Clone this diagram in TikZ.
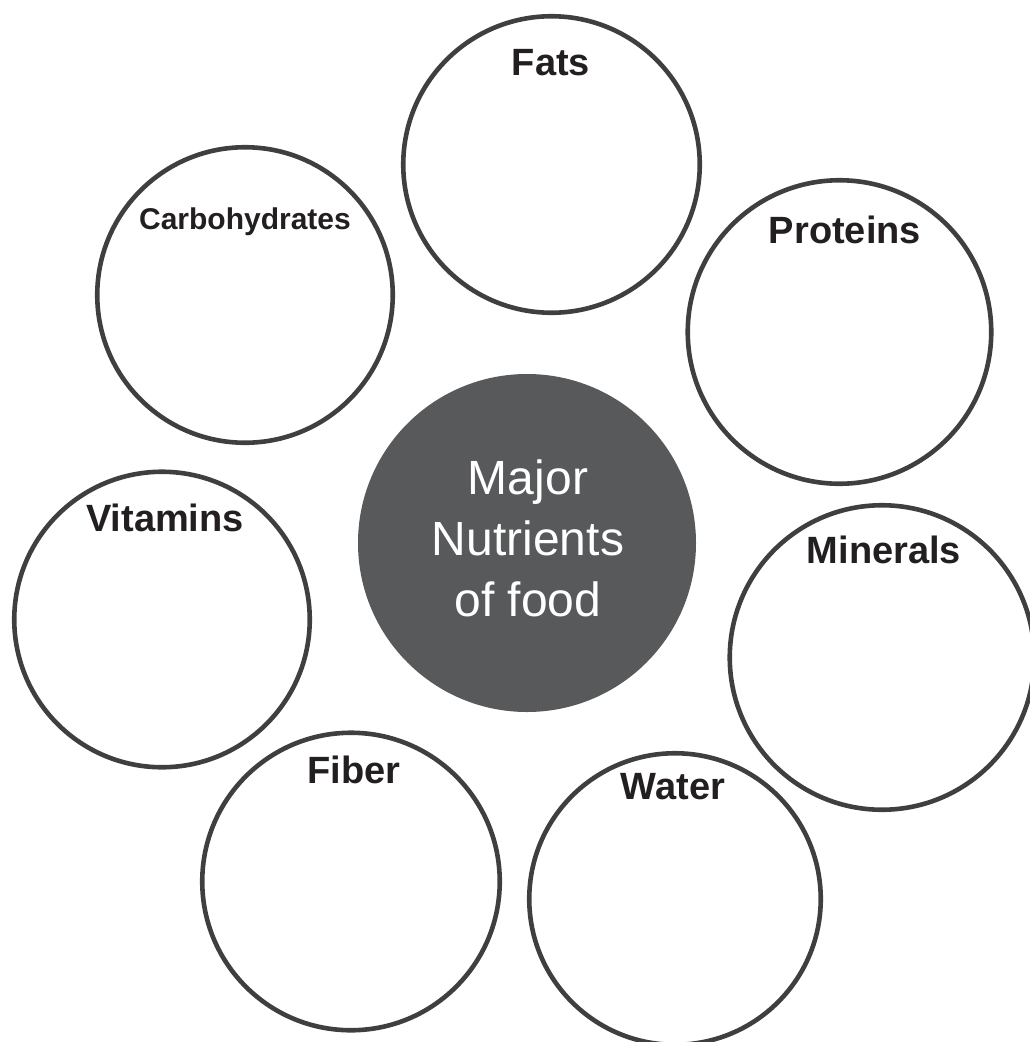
\documentclass[tikz,border=0pt]{standalone}
\usepackage{fontspec}
\setmainfont{Liberation Sans}
\definecolor{ringgray}{HTML}{3F3F40}
\definecolor{hubgray}{HTML}{58595B}
\definecolor{labink}{HTML}{231F20}
\begin{document}
\begin{tikzpicture}[x=1pt,y=-1pt,
  ring/.style={circle,draw=ringgray,line width=4.6pt,fill=white,inner sep=0pt,outer sep=0pt},
  hub/.style={circle,fill=hubgray,draw=none,inner sep=0pt,outer sep=0pt},
  lab/.style={anchor=base,inner sep=0pt,text=labink,font=\bfseries\fontsize{38}{44}\selectfont},
  smalllab/.style={lab,font=\bfseries\fontsize{30}{36}\selectfont},
  hubtext/.style={anchor=center,inner sep=0pt,text=white,align=center,font=\fontsize{48}{61}\selectfont}]
\useasboundingbox (0,0) rectangle (1029,1042);
% nutrient circles
\node[ring,minimum size=295.5pt] (carb) at (245,295) {};
\node[ring,minimum size=296.5pt] (fats) at (551.5,164.5) {};
\node[ring,minimum size=303.5pt] (prot) at (839.5,332) {};
\node[ring,minimum size=295.5pt] (vit) at (162,619.5) {};
\node[ring,minimum size=304.5pt] (min) at (882,657.5) {};
\node[ring,minimum size=297.5pt] (fib) at (351,881.5) {};
\node[ring,minimum size=291.5pt] (wat) at (675,899) {};
% central hub
\node[hub,minimum size=338pt] (hub) at (527,543) {};
% labels
\node[smalllab] (carbL) at (245,229) {Carbohydrates};
\node[lab] (fatsL) at (551,75) {Fats};
\node[lab] (protL) at (845,243) {Proteins};
\node[lab] (vitL) at (165,531) {Vitamins};
\node[lab] (minL) at (884,563) {Minerals};
\node[lab] (fibL) at (354,783) {Fiber};
\node[lab] (watL) at (673,799) {Water};
\node[hubtext] (hubL) at (528,538.5) {Major\\Nutrients\\of food};
\end{tikzpicture}
\end{document}
